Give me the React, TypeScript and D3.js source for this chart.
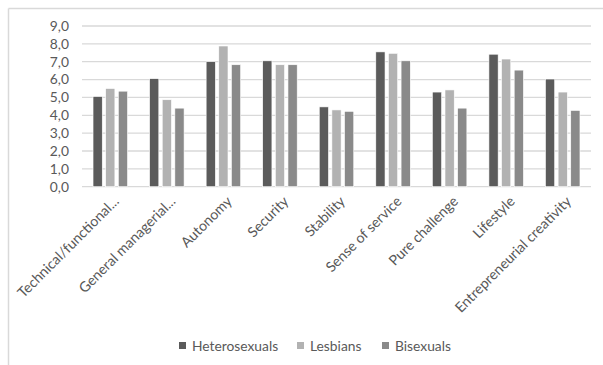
import React, { useRef, useEffect } from "react";
import * as d3 from "d3";

// Career anchors, mean scores by group
const categories = [
  "Technical/functional...",
  "General managerial...",
  "Autonomy",
  "Security",
  "Stability",
  "Sense of service",
  "Pure challenge",
  "Lifestyle",
  "Entrepreneurial creativity",
];
const seriesNames = ["Heterosexuals", "Lesbians", "Bisexuals"];
const heterosexuals = [5.05, 6.05, 7.0, 7.05, 4.47, 7.55, 5.3, 7.42, 6.03];
const lesbians = [5.5, 4.87, 7.88, 6.83, 4.3, 7.47, 5.42, 7.15, 5.3];
const bisexuals = [5.35, 4.4, 6.83, 6.83, 4.22, 7.05, 4.4, 6.53, 4.27];
const yTicks = [0, 1, 2, 3, 4, 5, 6, 7, 8, 9];
const colors = ["#5b5b5b", "#b2b2b2", "#8a8a8a"];

const W = 603;
const H = 365;
const FONT = "Lato, 'Open Sans', sans-serif";
const FS = 13.8;

const App: React.FC = () => {
  const svgRef = useRef<SVGSVGElement>(null);

  useEffect(() => {
    const svgElement = svgRef.current;
    if (!svgElement) return;
    const svg = d3.select(svgElement);
    svg.selectAll("*").remove();

    // frame (only top and left edges visible in the crop)
    svg.append("line").attr("x1", 8.5).attr("x2", W).attr("y1", 8.5).attr("y2", 8.5)
      .attr("stroke", "#d9d9d9").attr("stroke-width", 1.5);
    svg.append("line").attr("x1", 8.5).attr("x2", 8.5).attr("y1", 8.5).attr("y2", H)
      .attr("stroke", "#d9d9d9").attr("stroke-width", 1.5);

    const left = 82;
    const right = 591;
    const top = 26;
    const bottom = 186.7;

    const x = d3.scaleBand<string>().domain(categories).range([left, right]).paddingInner(0.39).paddingOuter(0.195);
    const xInner = d3.scaleBand<string>().domain(seriesNames).range([0, x.bandwidth()]).paddingInner(0.27);
    const y = d3.scaleLinear().domain([0, 9]).range([bottom, top]);

    // gridlines
    svg.append("g").selectAll("line").data(yTicks).join("line")
      .attr("x1", left).attr("x2", right)
      .attr("y1", (d) => y(d)).attr("y2", (d) => y(d))
      .attr("stroke", "#d9d9d9").attr("stroke-width", 1.3);

    // y labels
    svg.append("g").selectAll("text").data(yTicks).join("text")
      .attr("x", 69).attr("y", (d) => y(d))
      .attr("dy", "0.35em").attr("text-anchor", "end")
      .attr("font-family", FONT).attr("font-size", FS).attr("fill", "#595959")
      .text((d) => d.toFixed(1).replace(".", ","));

    const series = [heterosexuals, lesbians, bisexuals];
    series.forEach((vals, si) => {
      svg.append("g").selectAll("rect").data(vals).join("rect")
        .attr("x", (_, i) => (x(categories[i]) ?? 0) + (xInner(seriesNames[si]) ?? 0))
        .attr("y", (d) => y(d))
        .attr("width", xInner.bandwidth())
        .attr("height", (d) => y(0) - y(d))
        .attr("fill", colors[si])
        .attr("stroke", "#ffffff").attr("stroke-width", 0.6);
    });

    // category labels rotated
    svg.append("g").selectAll("text").data(categories).join("text")
      .attr("transform", (d) => `translate(${(x(d) ?? 0) + x.bandwidth() / 2 + 6},${bottom + 12}) rotate(-45)`)
      .attr("text-anchor", "end")
      .attr("dy", "0.35em")
      .attr("font-family", FONT).attr("font-size", 14.2).attr("fill", "#595959")
      .text((d) => d);

    // legend
    const legendX = [179, 297, 382];
    const legendY = 346;
    const lg = svg.append("g");
    seriesNames.forEach((name, i) => {
      lg.append("rect").attr("x", legendX[i]).attr("y", legendY - 4)
        .attr("width", 7).attr("height", 7).attr("fill", colors[i]);
      lg.append("text").attr("x", legendX[i] + 13).attr("y", legendY)
        .attr("dy", "0.35em")
        .attr("font-family", FONT).attr("font-size", FS).attr("fill", "#595959")
        .text(name);
    });
  }, []);

  return <svg ref={svgRef} width={W} height={H} style={{ position: "absolute", left: 0, top: 0 }}></svg>;
};

export default App;
